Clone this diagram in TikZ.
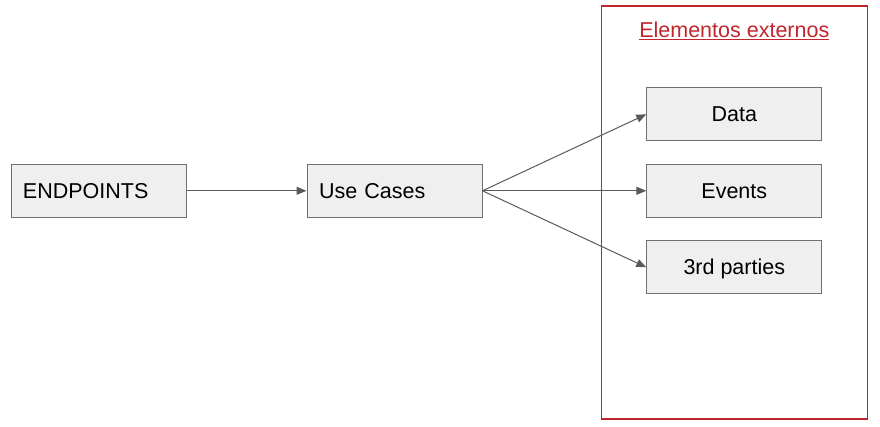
\documentclass[tikz,border=0pt]{standalone}
\usepackage{fontspec}
\setmainfont{Liberation Sans}
\usetikzlibrary{arrows.meta}
\definecolor{boxfill}{HTML}{EFEFEF}
\definecolor{boxline}{HTML}{707070}
\definecolor{arrowc}{HTML}{5A5A5A}
\definecolor{redc}{HTML}{C0262D}
\begin{document}
\begin{tikzpicture}[x=1pt,y=-1pt,
  box/.style={draw=boxline, fill=boxfill, line width=1pt, minimum width=175pt, minimum height=53pt, inner sep=0pt, text height=15.4pt, text depth=0pt, font=\fontsize{21.5}{24}\selectfont},
  leftbox/.style={box, align=left, text width=151pt, inner xsep=12pt},
  conn/.style={draw=arrowc, line width=1pt, -{Triangle[length=10pt,width=8pt]}}]
\useasboundingbox (0,0) rectangle (880,427);
\node[draw=redc, line width=1.3pt, minimum width=266pt, minimum height=413pt, inner sep=0pt] (ext) at (734.3,212.5) {};
\node[text=redc, font=\fontsize{21.5}{24}\selectfont, inner sep=0pt] (title) at (734.3,31) {\underline{Elementos externos}};
\node[leftbox] (ep) at (98.5,190.8) {ENDPOINTS};
\node[leftbox] (uc) at (394.5,190.8) {Use Cases};
\node[box] (data) at (734.3,114.3) {Data};
\node[box] (events) at (734.3,190.8) {Events};
\node[box] (third) at (734.3,267.3) {3rd parties};
\draw[conn] (ep.east) -- (uc.west);
\draw[conn] (uc.east) -- (data.west);
\draw[conn] (uc.east) -- (events.west);
\draw[conn] (uc.east) -- (third.west);
\end{tikzpicture}
\end{document}
